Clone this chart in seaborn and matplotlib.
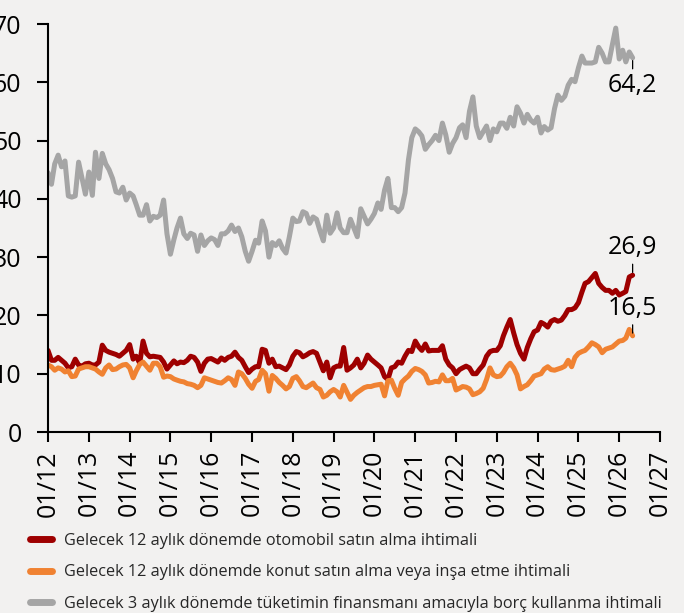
import numpy as np
import pandas as pd
import matplotlib
matplotlib.use("Agg")
import matplotlib.pyplot as plt
import seaborn as sns

# ---------------- data (monthly, 2012-01 .. 2026-05) ----------------
otomobil = [
    14, 12.3, 12.3, 12.8, 12.3, 11.8, 11, 11.2, 12.5, 11.5, 11.3, 11.7,
    11.8, 11.5, 11.5, 12, 14.9, 14, 13.7, 13.5, 13.3, 13, 13.5, 14,
    15, 12.5, 13, 11.8, 15.6, 13.5, 12.9, 13, 12.9, 12.8, 12, 10.8,
    11.5, 12.2, 11.7, 12, 11.9, 12.3, 13, 12.8, 12, 10.4, 11.8, 12.5,
    12.6, 12.3, 12, 12.7, 12.3, 12.8, 13, 13.7, 12.8, 12.3, 11.2, 10.2,
    10.8, 11.2, 11.2, 14.2, 14, 11.8, 12.5, 11.2, 11.3, 11, 10.7, 11.5,
    13, 13.8, 13.6, 12.9, 13.2, 13.6, 13.8, 13.5, 12, 10.5, 12, 9.3,
    11, 11.3, 11.3, 14.5, 10.6, 11, 11.5, 12.5, 11, 11.8, 13.2, 12.5,
    12, 11.5, 11, 9.5, 9, 11, 11.2, 12, 11.8, 13, 14, 13.8,
    15.6, 14.6, 14, 15.1, 13.9, 14, 14, 14, 14.8, 12.5, 11.5, 11,
    10, 10.7, 11, 11.3, 11, 10, 10, 10.8, 11.5, 13, 13.8, 14,
    14, 14.8, 16.5, 18, 19.3, 17, 15, 13.5, 12.5, 14.5, 16, 17.2,
    17.5, 18.8, 18.5, 18, 19, 19.3, 19, 19.2, 20, 21, 21, 21.3,
    22.2, 24, 25.5, 25.8, 26.5, 27.2, 25.5, 24.8, 24.3, 24.3, 23.8, 24.3,
    23.5, 23.8, 24.1, 26.6, 26.9,
]
konut = [
    11.5, 11.2, 10.6, 11, 10.8, 10.3, 10.5, 9.5, 9.6, 10.8, 11, 11.2,
    11.2, 11, 10.8, 10.3, 9.9, 11, 11.5, 10.7, 10.8, 11.2, 11.5, 11.6,
    11, 9.3, 10.5, 11.6, 12, 11.3, 10.6, 11.8, 11.8, 11.2, 9.4, 9.6,
    9.5, 9.1, 8.9, 8.7, 8.6, 8.3, 8.2, 8, 7.6, 8, 9.3, 9.1,
    8.9, 8.7, 8.5, 8.4, 8.8, 9.3, 9, 8, 10.3, 10, 9.2, 8.2,
    7.5, 8.7, 9, 10.6, 10, 7, 9.7, 9.2, 8.5, 8, 7.4, 7.8,
    9.2, 9.5, 8.8, 7.8, 7.6, 8, 8.4, 7.6, 7.3, 6, 6.3, 6.9,
    7.3, 6.9, 6, 8, 6.8, 5.6, 6.3, 6.8, 7.2, 7.6, 7.8, 7.8,
    8, 8.1, 8.2, 6.2, 8.8, 8.9, 7.5, 6.3, 8.5, 9.1, 9.6, 10.4,
    10.9, 10.7, 10.4, 9.8, 8.4, 8.5, 8.7, 8.6, 9.8, 8.8, 8.8, 9.2,
    7.2, 7.5, 7.8, 7.7, 7.4, 6.4, 6.6, 6.9, 7.5, 9, 11, 9.8,
    9.5, 9.6, 10.2, 11.2, 11.8, 11, 9.8, 7.4, 7.8, 8.1, 8.8, 9.6,
    9.8, 10, 10.8, 11.2, 10.7, 10.6, 10.8, 11, 11.3, 12.3, 11.2, 12.8,
    13.5, 13.8, 14, 14.6, 15.3, 15, 14.6, 13.6, 14.2, 14.4, 14.6, 15.1,
    15.6, 15.7, 16.1, 17.6, 16.5,
]
borc = [
    44.5, 42.5, 46, 47.5, 45.5, 46.5, 40.5, 40.3, 40.5, 46.3, 43.5, 40.8,
    44.6, 40.6, 48, 43.5, 47.8, 46, 45, 43.5, 41.2, 41, 42, 39.8,
    41, 40.5, 39, 37.2, 37.2, 39, 36.2, 37, 36.8, 37.2, 39.8, 34,
    30.5, 33, 35, 36.7, 34, 33.2, 34.1, 33.8, 31, 33.8, 32, 32.8,
    33.3, 33, 32, 34, 34, 34.5, 35.5, 34.4, 35, 33.5, 31, 29.3,
    31, 32.9, 32.4, 36.2, 34.5, 30, 32.5, 32, 32.8, 31.5, 30.7, 33.5,
    36.7, 36.1, 36.2, 37.8, 37.5, 35.8, 36.9, 36.5, 34.5, 32.8, 37.2, 34.1,
    35, 37.6, 35, 34.2, 34.2, 36.5, 35, 33.5, 38.3, 37, 35.7, 36.5,
    37.5, 39.3, 38.2, 41.5, 43.5, 38.5, 38.5, 37.8, 38.5, 41, 46.7, 50.5,
    52, 51.5, 50.8, 48.5, 49.3, 50, 50.9, 50, 53, 51, 48, 49.5,
    50.5, 52.2, 52.7, 50.5, 55, 57.5, 52.5, 50.5, 51.5, 52.5, 50, 52,
    51.5, 53, 53, 52.1, 54, 52.5, 55.8, 54.7, 53, 54.5, 53.5, 53,
    54, 51.3, 52.4, 51.8, 52.2, 55.5, 57.8, 56.9, 57.6, 59.5, 60.5, 60.1,
    62.5, 64.5, 63.3, 63.3, 63.3, 63.5, 66, 65, 63.5, 63.5, 66.5, 69.3,
    64, 65.5, 63.5, 65.2, 64.2,
]
series_labels = [
    "Gelecek 12 aylık dönemde otomobil satın alma ihtimali",
    "Gelecek 12 aylık dönemde konut satın alma veya inşa etme ihtimali",
    "Gelecek 3 aylık dönemde tüketimin finansmanı amacıyla borç kullanma ihtimali",
]
series_colors = ["#9e0000", "#f08232", "#a5a5a5"]
tick_labels = ["01/12", "01/13", "01/14", "01/15", "01/16", "01/17", "01/18", "01/19",
               "01/20", "01/21", "01/22", "01/23", "01/24", "01/25", "01/26", "01/27"]
y_ticks = [0, 10, 20, 30, 40, 50, 60, 70]
end_labels = ["26,9", "16,5", "64,2"]

# ---------------- figure ----------------
bg = "#f2f1f0"
sns.set_theme(style="ticks")
plt.rcParams["font.family"] = ["Open Sans", "DejaVu Sans"]

n = len(borc)
dates = pd.date_range("2012-01-01", periods=n, freq="MS")
df = pd.DataFrame({
    "Tarih": np.tile(dates, 3),
    "Deger": np.concatenate([otomobil, konut, borc]),
    "Seri": np.repeat(series_labels, n),
})

fig = plt.figure(figsize=(6.84, 6.13), dpi=100, facecolor=bg)
ax = fig.add_axes([48 / 684, 1 - 432 / 613, 612 / 684, 408 / 613])
ax.set_facecolor(bg)

sns.lineplot(data=df, x="Tarih", y="Deger", hue="Seri", hue_order=series_labels,
             palette=series_colors, linewidth=3.6, ax=ax, legend=True)
for ln in ax.get_lines():
    ln.set_solid_capstyle("round")
    ln.set_solid_joinstyle("round")

xt = pd.date_range("2012-01-01", "2027-01-01", freq="YS")
ax.set_xlim(xt[0], xt[-1])
ax.set_xticks(xt)
ax.set_xticklabels(tick_labels, rotation=90)
ax.set_ylim(0, 70)
ax.set_yticks(y_ticks)
ax.set_xlabel("")
ax.set_ylabel("")
sns.despine(ax=ax)
for s in ["left", "bottom"]:
    ax.spines[s].set_color("black")
    ax.spines[s].set_linewidth(1.5)
ax.tick_params(axis="y", length=8, width=1.5, pad=11, labelsize=18, colors="black")
ax.tick_params(axis="x", length=7, width=1.5, pad=6, labelsize=18, colors="black")

# end-of-series labels
vals = [otomobil[-1], konut[-1], borc[-1]]
for val, lab, down in zip(vals, end_labels, [False, False, True]):
    sign = -1 if down else 1
    ax.annotate("", xy=(dates[-1], val), xytext=(0, sign * 11), textcoords="offset pixels",
                arrowprops=dict(arrowstyle="-", color="black", lw=0.9, shrinkA=0, shrinkB=2))
    ax.annotate(lab, xy=(dates[-1], val), xytext=(0, sign * 15), textcoords="offset pixels",
                ha="center", va="top" if down else "bottom", fontsize=18, color="black")

# legend
handles, labs = ax.get_legend_handles_labels()
ax.get_legend().remove()
leg = fig.legend(handles, labs, loc="upper left", bbox_to_anchor=(30 / 684, 1 - 533 / 613),
                 frameon=False, fontsize=11.7, handlelength=1.35, handletextpad=0.75,
                 labelspacing=0.95, borderaxespad=0, borderpad=0)
for h in leg.get_lines():
    h.set_linewidth(5)
    h.set_solid_capstyle("round")

fig.savefig("out.png", dpi=100, facecolor=bg)
